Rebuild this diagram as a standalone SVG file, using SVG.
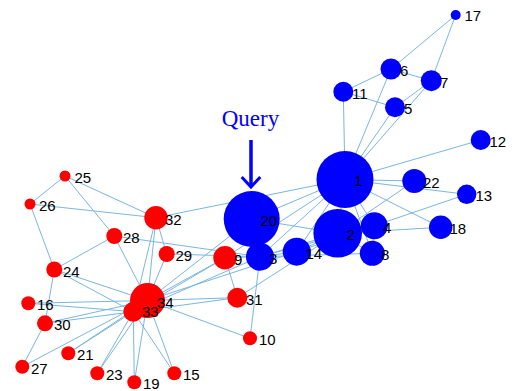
<svg xmlns="http://www.w3.org/2000/svg" width="516" height="391" viewBox="0 0 516 391">
<style>
.e{stroke:#7ab6e0;stroke-width:1;fill:none}
.b{fill:#0000ff}
.r{fill:#ff0000}
.l{font-family:"Liberation Sans",Arial,sans-serif;font-size:15px;fill:#000}
.q{font-family:"Liberation Serif","Times New Roman",serif;font-size:23px;fill:#0000ff}
</style>
<rect width="516" height="391" fill="#fff"/>
<g id="edges" class="e">
<line x1="345" y1="179.5" x2="337.7" y2="233.3"/>
<line x1="345" y1="179.5" x2="260" y2="256.7"/>
<line x1="345" y1="179.5" x2="374.3" y2="225.7"/>
<line x1="345" y1="179.5" x2="395" y2="107.3"/>
<line x1="345" y1="179.5" x2="391" y2="69"/>
<line x1="345" y1="179.5" x2="431.3" y2="80.7"/>
<line x1="345" y1="179.5" x2="372.3" y2="253.3"/>
<line x1="345" y1="179.5" x2="225" y2="257.7"/>
<line x1="345" y1="179.5" x2="343.3" y2="91.7"/>
<line x1="345" y1="179.5" x2="480.7" y2="140"/>
<line x1="345" y1="179.5" x2="466.7" y2="194.3"/>
<line x1="345" y1="179.5" x2="296.7" y2="251.7"/>
<line x1="345" y1="179.5" x2="440.7" y2="227.3"/>
<line x1="345" y1="179.5" x2="251.7" y2="219"/>
<line x1="345" y1="179.5" x2="414.3" y2="181"/>
<line x1="345" y1="179.5" x2="156" y2="217.7"/>
<line x1="337.7" y1="233.3" x2="260" y2="256.7"/>
<line x1="337.7" y1="233.3" x2="374.3" y2="225.7"/>
<line x1="337.7" y1="233.3" x2="372.3" y2="253.3"/>
<line x1="337.7" y1="233.3" x2="296.7" y2="251.7"/>
<line x1="337.7" y1="233.3" x2="440.7" y2="227.3"/>
<line x1="337.7" y1="233.3" x2="251.7" y2="219"/>
<line x1="337.7" y1="233.3" x2="414.3" y2="181"/>
<line x1="337.7" y1="233.3" x2="237.3" y2="297.7"/>
<line x1="260" y1="256.7" x2="374.3" y2="225.7"/>
<line x1="260" y1="256.7" x2="372.3" y2="253.3"/>
<line x1="260" y1="256.7" x2="225" y2="257.7"/>
<line x1="260" y1="256.7" x2="250" y2="338.3"/>
<line x1="260" y1="256.7" x2="296.7" y2="251.7"/>
<line x1="260" y1="256.7" x2="114.3" y2="236"/>
<line x1="260" y1="256.7" x2="166.7" y2="254"/>
<line x1="260" y1="256.7" x2="133.3" y2="311.7"/>
<line x1="374.3" y1="225.7" x2="372.3" y2="253.3"/>
<line x1="374.3" y1="225.7" x2="466.7" y2="194.3"/>
<line x1="374.3" y1="225.7" x2="296.7" y2="251.7"/>
<line x1="395" y1="107.3" x2="431.3" y2="80.7"/>
<line x1="395" y1="107.3" x2="343.3" y2="91.7"/>
<line x1="391" y1="69" x2="431.3" y2="80.7"/>
<line x1="391" y1="69" x2="343.3" y2="91.7"/>
<line x1="391" y1="69" x2="455.7" y2="15"/>
<line x1="431.3" y1="80.7" x2="455.7" y2="15"/>
<line x1="225" y1="257.7" x2="237.3" y2="297.7"/>
<line x1="225" y1="257.7" x2="133.3" y2="311.7"/>
<line x1="225" y1="257.7" x2="147.5" y2="300.5"/>
<line x1="250" y1="338.3" x2="147.5" y2="300.5"/>
<line x1="296.7" y1="251.7" x2="147.5" y2="300.5"/>
<line x1="174.3" y1="373.3" x2="133.3" y2="311.7"/>
<line x1="174.3" y1="373.3" x2="147.5" y2="300.5"/>
<line x1="28.3" y1="303.3" x2="133.3" y2="311.7"/>
<line x1="28.3" y1="303.3" x2="147.5" y2="300.5"/>
<line x1="134.3" y1="382.3" x2="133.3" y2="311.7"/>
<line x1="134.3" y1="382.3" x2="147.5" y2="300.5"/>
<line x1="251.7" y1="219" x2="147.5" y2="300.5"/>
<line x1="68.3" y1="353.3" x2="133.3" y2="311.7"/>
<line x1="68.3" y1="353.3" x2="147.5" y2="300.5"/>
<line x1="97.3" y1="373.3" x2="133.3" y2="311.7"/>
<line x1="97.3" y1="373.3" x2="147.5" y2="300.5"/>
<line x1="54.3" y1="269.5" x2="30" y2="204"/>
<line x1="54.3" y1="269.5" x2="114.3" y2="236"/>
<line x1="54.3" y1="269.5" x2="45" y2="323.3"/>
<line x1="54.3" y1="269.5" x2="133.3" y2="311.7"/>
<line x1="54.3" y1="269.5" x2="147.5" y2="300.5"/>
<line x1="65" y1="176" x2="30" y2="204"/>
<line x1="65" y1="176" x2="114.3" y2="236"/>
<line x1="65" y1="176" x2="156" y2="217.7"/>
<line x1="30" y1="204" x2="156" y2="217.7"/>
<line x1="22.3" y1="366.7" x2="45" y2="323.3"/>
<line x1="22.3" y1="366.7" x2="147.5" y2="300.5"/>
<line x1="114.3" y1="236" x2="147.5" y2="300.5"/>
<line x1="166.7" y1="254" x2="156" y2="217.7"/>
<line x1="166.7" y1="254" x2="147.5" y2="300.5"/>
<line x1="45" y1="323.3" x2="133.3" y2="311.7"/>
<line x1="45" y1="323.3" x2="147.5" y2="300.5"/>
<line x1="237.3" y1="297.7" x2="133.3" y2="311.7"/>
<line x1="237.3" y1="297.7" x2="147.5" y2="300.5"/>
<line x1="156" y1="217.7" x2="133.3" y2="311.7"/>
<line x1="156" y1="217.7" x2="147.5" y2="300.5"/>
<line x1="133.3" y1="311.7" x2="147.5" y2="300.5"/>
</g>
<g id="n1"><circle class="b" cx="345" cy="179.5" r="28.5"/><text class="l" x="354" y="186">1</text></g>
<g id="n20"><circle class="b" cx="251.7" cy="219" r="28"/><text class="l" x="260.5" y="226">20</text></g>
<g id="n2"><circle class="b" cx="337.7" cy="233.3" r="24.3"/><text class="l" x="346.5" y="240">2</text></g>
<g id="n3"><circle class="b" cx="260" cy="256.7" r="14"/><text class="l" x="269" y="263.5">3</text></g>
<g id="n4"><circle class="b" cx="374.3" cy="225.7" r="13.5"/><text class="l" x="383" y="232.5">4</text></g>
<g id="n5"><circle class="b" cx="395" cy="107.3" r="10"/><text class="l" x="404" y="114">5</text></g>
<g id="n6"><circle class="b" cx="391" cy="69" r="10.5"/><text class="l" x="400" y="76">6</text></g>
<g id="n7"><circle class="b" cx="431.3" cy="80.7" r="10.5"/><text class="l" x="440" y="87.5">7</text></g>
<g id="n8"><circle class="b" cx="372.3" cy="253.3" r="12.5"/><text class="l" x="381" y="260">8</text></g>
<g id="n9"><circle class="r" cx="225" cy="257.7" r="11.7"/><text class="l" x="234" y="264.5">9</text></g>
<g id="n10"><circle class="r" cx="250" cy="338.3" r="7"/><text class="l" x="259" y="345">10</text></g>
<g id="n11"><circle class="b" cx="343.3" cy="91.7" r="10"/><text class="l" x="352" y="98.5">11</text></g>
<g id="n12"><circle class="b" cx="480.7" cy="140" r="10"/><text class="l" x="489.5" y="146.7">12</text></g>
<g id="n13"><circle class="b" cx="466.7" cy="194.3" r="9.7"/><text class="l" x="475.5" y="201">13</text></g>
<g id="n14"><circle class="b" cx="296.7" cy="251.7" r="14"/><text class="l" x="305.5" y="258.5">14</text></g>
<g id="n15"><circle class="r" cx="174.3" cy="373.3" r="7"/><text class="l" x="183" y="380">15</text></g>
<g id="n16"><circle class="r" cx="28.3" cy="303.3" r="7"/><text class="l" x="37" y="310">16</text></g>
<g id="n17"><circle class="b" cx="455.7" cy="15" r="5"/><text class="l" x="464.5" y="21">17</text></g>
<g id="n18"><circle class="b" cx="440.7" cy="227.3" r="11.7"/><text class="l" x="449.5" y="234">18</text></g>
<g id="n19"><circle class="r" cx="134.3" cy="382.3" r="7"/><text class="l" x="143" y="389">19</text></g>
<g id="n21"><circle class="r" cx="68.3" cy="353.3" r="7"/><text class="l" x="77" y="360">21</text></g>
<g id="n22"><circle class="b" cx="414.3" cy="181" r="12"/><text class="l" x="423" y="188">22</text></g>
<g id="n23"><circle class="r" cx="97.3" cy="373.3" r="7"/><text class="l" x="106" y="380">23</text></g>
<g id="n24"><circle class="r" cx="54.3" cy="269.5" r="8"/><text class="l" x="63" y="276.5">24</text></g>
<g id="n25"><circle class="r" cx="65" cy="176" r="5.5"/><text class="l" x="74.5" y="182.7">25</text></g>
<g id="n26"><circle class="r" cx="30" cy="204" r="5.5"/><text class="l" x="39" y="211">26</text></g>
<g id="n27"><circle class="r" cx="22.3" cy="366.7" r="7"/><text class="l" x="31" y="373.5">27</text></g>
<g id="n28"><circle class="r" cx="114.3" cy="236" r="8"/><text class="l" x="123" y="243">28</text></g>
<g id="n29"><circle class="r" cx="166.7" cy="254" r="8"/><text class="l" x="175.5" y="261">29</text></g>
<g id="n30"><circle class="r" cx="45" cy="323.3" r="8"/><text class="l" x="54" y="330">30</text></g>
<g id="n31"><circle class="r" cx="237.3" cy="297.7" r="10"/><text class="l" x="246" y="304.5">31</text></g>
<g id="n32"><circle class="r" cx="156" cy="217.7" r="11.7"/><text class="l" x="165" y="224.5">32</text></g>
<g id="n34"><circle class="r" cx="147.5" cy="300.5" r="17.5"/><text class="l" x="157" y="307.5">34</text></g>
<g id="n33"><circle class="r" cx="133.3" cy="311.7" r="10"/><text class="l" x="142" y="317">33</text></g>
<g id="query">
<text class="q" x="250.5" y="126" text-anchor="middle">Query</text>
<line x1="251" y1="140" x2="251" y2="186" stroke="#0000ff" stroke-width="3.5"/>
<polyline points="241.7,177 251,187 260.3,177" fill="none" stroke="#0000ff" stroke-width="3"/>
</g>
</svg>
